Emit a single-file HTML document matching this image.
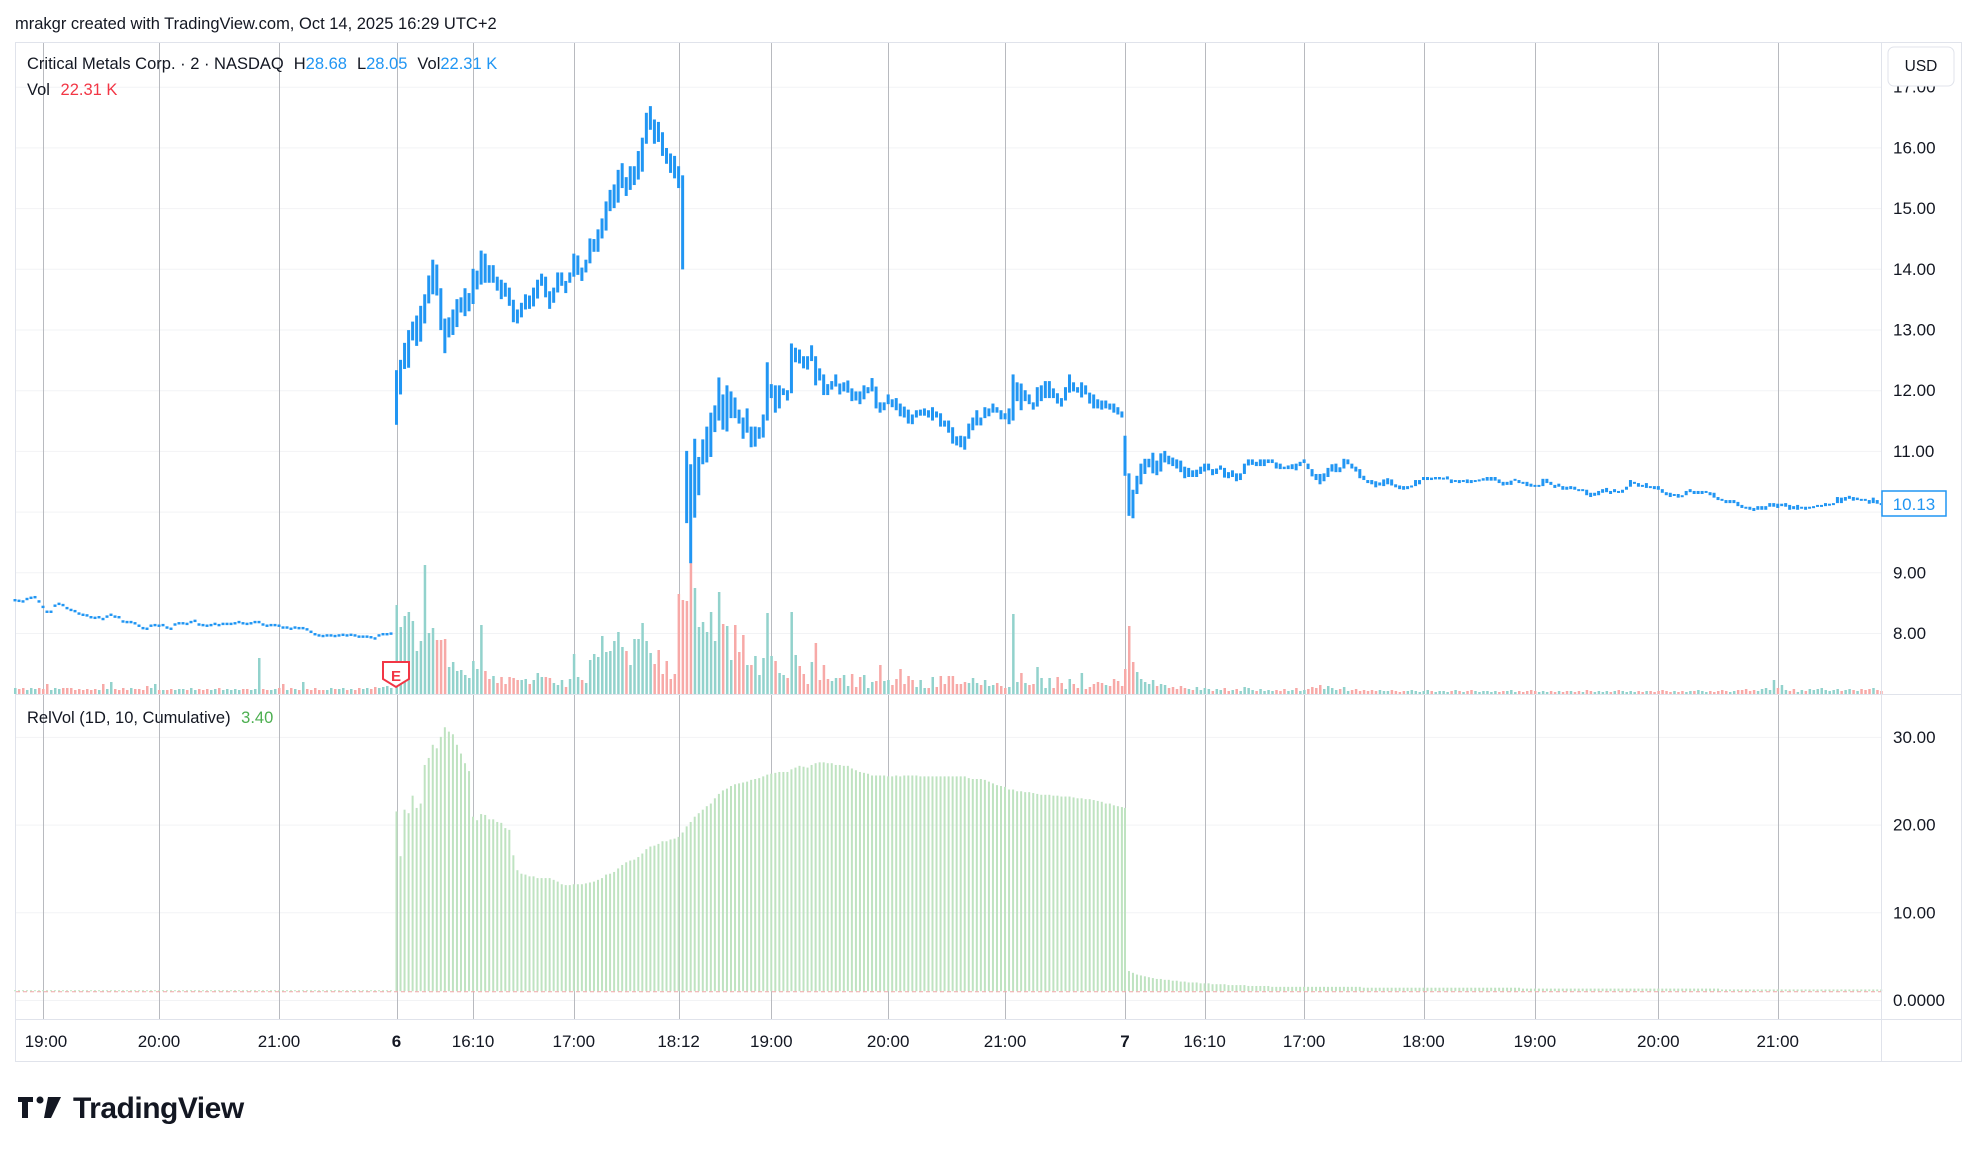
<!DOCTYPE html>
<html><head><meta charset="utf-8"><style>
html,body{margin:0;padding:0;background:#fff;width:1977px;height:1152px;overflow:hidden;font-family:"Liberation Sans",sans-serif;}
svg{position:absolute;left:0;top:0;}
</style></head><body>
<svg id="chart" width="1977" height="1152" viewBox="0 0 1977 1152">
<text x="15" y="29" font-size="16.5" fill="#131722">mrakgr created with TradingView.com, Oct 14, 2025 16:29 UTC+2</text>
<rect x="15.5" y="42.5" width="1946" height="1019" fill="#fff" stroke="#e0e3eb"/>
<g id="grid"></g>
<g id="vol"></g>
<g id="bars"></g>
<g id="relvol"></g>
<line x1="16" y1="694.5" x2="1961" y2="694.5" stroke="#e0e3eb"/>
<line x1="16" y1="1019.5" x2="1961" y2="1019.5" stroke="#e0e3eb"/>
<line x1="1881.5" y1="43" x2="1881.5" y2="1061" stroke="#e0e3eb"/>
<g id="axes" font-size="17" fill="#131722"></g>
<rect x="1888" y="47" width="66" height="39" rx="6" fill="#fff" stroke="#e0e3eb"/>
<text x="1921" y="71" font-size="15.5" text-anchor="middle" fill="#131722">USD</text>
<text x="27" y="69" font-size="16.5" fill="#131722">Critical Metals Corp. · 2 · NASDAQ<tspan dx="10">H</tspan><tspan fill="#2196f3">28.68</tspan><tspan dx="10">L</tspan><tspan fill="#2196f3">28.05</tspan><tspan dx="10">Vol</tspan><tspan fill="#2196f3">22.31 K</tspan></text>
<text x="27" y="95" font-size="16.5" fill="#131722">Vol <tspan dx="6" fill="#f23645">22.31 K</tspan></text>
<text x="27" y="723" font-size="16.5" fill="#131722">RelVol (1D, 10, Cumulative) <tspan dx="6" fill="#4caf50">3.40</tspan></text>
<g>
<path d="M383 662 h26 v17 l-13 8 l-13 -8 z" fill="#fff" stroke="#f23645" stroke-width="2"/>
<text x="396" y="681" font-size="15" text-anchor="middle" fill="#f23645" font-weight="bold">E</text>
</g>
<rect x="1882" y="491" width="64" height="25" fill="#fff" stroke="#2196f3" stroke-width="1.5"/>
<text x="1914" y="510" font-size="17" text-anchor="middle" fill="#2196f3">10.13</text>
<g>
<path d="M18 1097 h15 v5 h-5 v16 h-6 v-16 h-4 z" fill="#131722"/>
<circle cx="40" cy="1100" r="3.5" fill="#131722"/>
<path d="M48 1097 h13 l-10 21 h-7 z" fill="#131722"/>
<text x="73" y="1118" font-size="30" font-weight="bold" fill="#131722" letter-spacing="-0.5">TradingView</text>
</g>
</svg>
<script>
// ---- data ----
const priorMid=[8.54,8.53,8.52,8.56,8.58,8.59,8.52,8.43,8.35,8.35,8.45,8.48,8.46,8.41,8.38,8.36,8.32,8.30,8.29,8.26,8.25,8.26,8.23,8.27,8.30,8.27,8.26,8.19,8.18,8.18,8.16,8.12,8.08,8.07,8.12,8.13,8.12,8.13,8.09,8.07,8.14,8.16,8.16,8.15,8.18,8.20,8.14,8.13,8.12,8.13,8.15,8.13,8.15,8.15,8.15,8.16,8.18,8.16,8.15,8.16,8.18,8.18,8.14,8.12,8.13,8.13,8.12,8.09,8.09,8.07,8.09,8.08,8.08,8.06,8.02,7.98,7.96,7.95,7.96,7.96,7.95,7.96,7.97,7.96,7.97,7.96,7.94,7.94,7.94,7.93,7.91,7.96,7.98,7.98,7.99];
const day6High=[12.33,12.5,12.78,12.99,13.13,13.23,13.39,13.58,13.89,14.15,14.07,13.68,13.18,13.2,13.33,13.5,13.53,13.68,13.6,14.0,13.97,14.3,14.25,14.06,14.06,13.87,13.82,13.77,13.69,13.49,13.33,13.44,13.58,13.56,13.69,13.82,13.92,13.87,13.63,13.69,13.94,13.94,13.8,13.94,14.25,14.22,14.02,14.15,14.5,14.49,14.65,14.83,15.11,15.3,15.39,15.63,15.74,15.51,15.69,15.69,15.94,16.16,16.57,16.68,16.46,16.42,16.25,15.99,15.9,15.86,15.69,15.54,
11.0,10.78,11.2,10.9,11.19,11.4,11.63,11.75,12.21,11.93,12.08,11.98,11.88,11.68,11.55,11.7,11.4,11.4,11.39,11.6,12.46,12.1,12.08,12.08,12.03,12.0,12.77,12.7,12.67,12.56,12.56,12.74,12.56,12.36,12.26,12.1,12.15,12.26,12.11,12.13,12.16,12.03,11.98,11.98,12.08,12.05,12.2,12.06,11.8,11.8,11.93,11.85,11.87,11.78,11.73,11.68,11.6,11.67,11.68,11.7,11.67,11.72,11.65,11.62,11.5,11.5,11.39,11.24,11.25,11.24,11.45,11.55,11.67,11.55,11.72,11.7,11.78,11.72,11.67,11.62,11.7,12.26,12.13,12.11,12.0,11.93,11.8,12.05,12.08,12.15,12.15,12.03,11.95,11.87,12.05,12.26,12.13,12.05,12.13,12.08,11.96,11.93,11.85,11.83,11.83,11.78,11.78,11.72,11.65];
const day6Low=[11.43,11.93,12.35,12.37,12.82,12.73,12.8,13.1,13.43,13.58,13.56,12.99,12.61,12.87,12.91,13.04,13.28,13.22,13.3,13.42,13.66,13.74,13.77,13.77,13.77,13.64,13.5,13.54,13.39,13.12,13.1,13.2,13.33,13.34,13.38,13.51,13.72,13.53,13.34,13.44,13.61,13.72,13.6,13.77,13.87,13.9,13.8,13.94,14.09,14.28,14.28,14.5,14.63,14.95,15.0,15.09,15.33,15.2,15.3,15.38,15.47,15.6,16.06,16.29,16.06,16.09,15.86,15.73,15.58,15.49,15.33,13.99,
9.81,9.15,9.9,10.27,10.78,10.81,10.9,11.31,11.5,11.35,11.32,11.54,11.54,11.45,11.2,11.3,11.06,11.07,11.2,11.22,11.5,11.87,11.63,11.7,11.92,11.83,11.95,12.46,12.44,12.36,12.34,12.48,12.08,12.16,11.92,11.92,12.01,12.06,11.93,11.98,11.96,11.82,11.83,11.77,11.85,11.95,11.98,11.7,11.63,11.67,11.77,11.72,11.67,11.57,11.55,11.45,11.44,11.55,11.58,11.58,11.55,11.5,11.55,11.4,11.4,11.3,11.12,11.09,11.06,11.02,11.2,11.34,11.42,11.42,11.54,11.57,11.63,11.63,11.52,11.52,11.44,11.5,11.82,11.67,11.82,11.77,11.68,11.73,11.82,11.87,11.87,11.87,11.78,11.73,11.83,11.96,11.98,11.96,11.88,11.93,11.78,11.7,11.7,11.68,11.7,11.68,11.63,11.6,11.55];
const day7High=[11.25,10.63,10.36,10.59,10.79,10.87,10.87,10.97,10.84,10.96,11.0,10.92,10.89,10.86,10.84,10.74,10.72,10.68,10.69,10.74,10.79,10.79,10.7,10.71,10.76,10.72,10.65,10.68,10.63,10.63,10.79,10.86,10.86,10.82,10.86,10.86,10.86,10.86,10.81,10.79,10.74,10.76,10.78,10.79,10.82,10.86,10.79,10.7,10.62,10.62,10.63,10.72,10.78,10.79,10.73,10.87,10.86,10.79,10.74,10.7,10.59,10.52,10.52,10.5,10.48,10.53,10.55,10.53,10.45,10.43,10.42,10.42,10.43,10.52,10.52,10.57,10.57,10.56,10.57,10.57,10.56,10.58,10.53,10.52,10.52,10.52,10.53,10.52,10.52,10.53,10.55,10.57,10.57,10.57,10.53,
10.49,10.49,10.51,10.54,10.52,10.49,10.49,10.46,10.44,10.44,10.54,10.54,10.49,10.44,10.46,10.42,10.41,10.42,10.41,10.37,10.37,10.36,10.31,10.31,10.34,10.37,10.39,10.34,10.37,10.34,10.36,10.41,10.52,10.49,10.47,10.44,10.47,10.42,10.42,10.42,10.37,10.32,10.31,10.29,10.29,10.27,10.34,10.37,10.34,10.34,10.34,10.34,10.32,10.31,10.24,10.21,10.19,10.19,10.19,10.16,10.11,10.08,10.08,10.06,10.09,10.09,10.09,10.14,10.14,10.13,10.13,10.14,10.11,10.09,10.11,10.08,10.08,10.08,10.09,10.11,10.11,10.14,10.13,10.14,10.24,10.23,10.24,10.26,10.24,10.23,10.21,10.21,10.19,10.23,10.19,10.14];
const day7Low=[10.59,9.93,9.89,10.29,10.45,10.62,10.73,10.63,10.6,10.66,10.81,10.78,10.75,10.71,10.65,10.55,10.57,10.57,10.57,10.62,10.66,10.68,10.6,10.62,10.69,10.56,10.55,10.57,10.5,10.52,10.62,10.76,10.77,10.75,10.75,10.75,10.8,10.8,10.71,10.7,10.7,10.7,10.7,10.68,10.75,10.8,10.7,10.58,10.52,10.45,10.5,10.57,10.66,10.65,10.65,10.71,10.78,10.71,10.66,10.55,10.52,10.47,10.45,10.4,10.43,10.42,10.45,10.43,10.4,10.37,10.36,10.37,10.4,10.42,10.45,10.52,10.52,10.52,10.53,10.53,10.55,10.53,10.47,10.49,10.47,10.49,10.47,10.47,10.51,10.51,10.51,10.51,10.51,10.51,10.47,
10.43,10.44,10.44,10.51,10.47,10.47,10.42,10.41,10.41,10.41,10.42,10.47,10.44,10.39,10.41,10.36,10.36,10.37,10.36,10.36,10.36,10.27,10.24,10.26,10.27,10.31,10.32,10.29,10.32,10.32,10.31,10.36,10.41,10.46,10.41,10.41,10.39,10.41,10.37,10.36,10.31,10.27,10.24,10.27,10.23,10.24,10.27,10.32,10.29,10.29,10.29,10.31,10.27,10.23,10.19,10.18,10.14,10.14,10.14,10.09,10.06,10.06,10.03,10.01,10.03,10.03,10.03,10.08,10.08,10.06,10.09,10.08,10.03,10.04,10.03,10.06,10.03,10.06,10.08,10.08,10.08,10.09,10.11,10.13,10.14,10.14,10.18,10.21,10.18,10.19,10.19,10.18,10.13,10.14,10.13,10.13];
const priorVol=[6,5,6,4,6,5,6,5,10,4,6,5,6,6,6,4,5,4,5,4,5,4,10,5,12,5,4,6,4,6,5,5,4,8,6,10,4,4,4,5,4,5,5,4,6,4,5,4,5,4,5,6,4,5,4,5,4,5,5,4,5,36,5,4,4,5,6,10,4,6,5,4,12,5,4,6,4,4,4,6,5,5,6,4,5,4,6,5,6,5,7,6,7,8,6];
const day6Vol=[89,67,78,82,73,43,53,129,61,66,54,54,55,27,32,23,24,19,16,33,25,69,23,15,18,11,17,10,17,16,14,14,15,10,14,21,17,17,16,11,9,14,7,15,40,17,14,11,34,40,37,58,42,43,53,62,47,43,29,55,55,71,53,41,30,44,20,33,15,20,100,94,
93,131,106,67,72,62,82,53,102,70,68,34,69,42,59,29,29,38,19,36,81,38,33,21,19,16,82,39,28,20,10,32,51,14,29,15,13,16,16,19,8,20,7,17,19,6,12,13,29,13,14,9,15,25,10,18,14,7,14,6,6,17,7,18,10,18,18,10,10,12,11,16,11,9,14,8,9,11,8,6,7,80,12,21,11,9,10,27,16,6,16,6,17,11,5,15,10,6,21,5,7,10,12,11,9,8,15,13,8];
const day7Vol=[25,68,32,22,15,12,10,14,8,10,9,6,7,5,8,6,5,4,7,4,6,5,3,5,4,6,3,4,5,3,7,6,4,3,5,3,4,3,4,3,5,3,4,6,3,4,5,7,6,9,5,8,6,4,5,7,3,4,5,3,4,3,4,3,4,3,3,4,3,2,3,3,4,3,2,3,4,3,2,3,3,2,3,4,3,2,3,4,3,2,3,3,2,3,2,3,3,4,2,3,2,3,4,3,2,3,2,3,2,3,2,3,3,2,3,2,4,3,2,3,2,3,2,3,4,3,2,3,2,3,2,3,3,2,3,4,3,2,3,2,3,2,3,3,4,3,2,3,2,3,4,3,2,3,4,4,5,3,4,3,5,6,4,14,6,9,4,3,5,2,4,3,5,4,5,6,4,3,4,5,3,4,5,4,3,5,4,5,6,4,3];
const priorRel=[1.1,1.1,1.1,1.1,1.1,1.1,1.1,1.1,1.1,1.1,1.1,1.1,1.1,1.1,1.1,1.1,1.1,1.1,1.1,1.1,1.1,1.1,1.1,1.1,1.1,1.1,1.1,1.1,1.1,1.1,1.1,1.1,1.1,1.1,1.1,1.1,1.1,1.1,1.1,1.1,1.1,1.1,1.1,1.1,1.1,1.1,1.1,1.1,1.1,1.1,1.1,1.1,1.1,1.1,1.1,1.1,1.1,1.1,1.1,1.1,1.1,1.1,1.1,1.1,1.1,1.1,1.1,1.1,1.1,1.1,1.1,1.1,1.1,1.1,1.1,1.1,1.1,1.1,1.1,1.1,1.1,1.1,1.1,1.1,1.1,1.1,1.1,1.1,1.1,1.1,1.1,1.1,1.1,1.1,1.1];
const day6Rel=[21.5,16.4,21.7,21.3,23.3,21.9,22.4,26.8,27.6,29.1,28.7,30.0,31.1,30.6,30.3,29.1,28.1,27.0,26.1,20.9,20.5,21.2,21.1,20.6,20.6,20.3,20.2,19.6,19.4,16.5,14.8,14.4,14.3,14.1,14.1,13.9,13.9,13.9,13.9,13.7,13.5,13.2,13.1,13.1,13.2,13.2,13.2,13.3,13.4,13.5,13.7,13.9,14.3,14.4,14.6,15.0,15.4,15.7,15.9,16.0,16.3,16.7,17.2,17.5,17.6,17.8,18.1,18.1,18.3,18.4,18.6,19.1,
19.8,20.3,20.9,21.3,21.7,22.1,22.4,23.0,23.5,23.9,24.1,24.4,24.6,24.7,24.8,24.9,25.1,25.2,25.3,25.5,25.7,25.8,25.9,26.0,26.0,26.0,26.3,26.5,26.7,26.6,26.5,26.8,27.0,27.1,27.1,27.0,27.0,26.8,26.8,26.7,26.7,26.4,26.2,26.0,25.9,25.8,25.6,25.6,25.6,25.6,25.5,25.5,25.6,25.5,25.6,25.6,25.6,25.6,25.5,25.5,25.5,25.5,25.5,25.5,25.5,25.5,25.5,25.5,25.5,25.5,25.3,25.2,25.2,25.2,25.1,24.9,24.7,24.5,24.4,24.3,24.0,24.0,23.8,23.8,23.7,23.7,23.6,23.5,23.4,23.4,23.4,23.3,23.3,23.2,23.2,23.2,23.1,23.0,23.0,22.9,22.9,22.8,22.7,22.6,22.4,22.4,22.2,22.1,22.0,21.9];
const day7Rel=[3.4,3.3,3.1,2.9,2.8,2.7,2.6,2.5,2.4,2.4,2.3,2.3,2.2,2.2,2.1,2.1,2.0,2.0,2.0,1.9,1.9,1.9,1.8,1.8,1.8,1.8,1.7,1.7,1.7,1.7,1.7,1.6,1.6,1.6,1.6,1.6,1.6,1.5,1.5,1.5,1.5,1.5,1.5,1.5,1.5,1.5,1.5,1.5,1.5,1.5,1.5,1.5,1.5,1.5,1.5,1.5,1.5,1.5,1.5,1.5,
1.4,1.4,1.4,1.4,1.4,1.4,1.4,1.4,1.4,1.4,1.4,1.4,1.4,1.4,1.4,1.4,1.4,1.4,1.4,1.4,1.4,1.4,1.4,1.4,1.4,1.4,1.4,1.4,1.4,1.4,1.4,1.4,1.4,1.4,1.4,1.4,1.4,1.4,1.4,1.4,
1.3,1.3,1.3,1.3,1.3,1.3,1.3,1.3,1.3,1.3,1.3,1.3,1.3,1.3,1.3,1.3,1.3,1.3,1.3,1.3,1.3,1.3,1.3,1.3,1.3,1.3,1.3,1.3,1.3,1.3,1.3,1.3,1.3,1.3,1.3,1.3,1.3,1.3,1.3,1.3,1.3,1.3,1.3,1.3,1.3,1.3,1.3,1.3,1.3,1.3,
1.2,1.2,1.2,1.2,1.2,1.2,1.2,1.2,1.2,1.2,1.2,1.2,1.2,1.2,1.2,1.2,1.2,1.2,1.2,1.2,1.2,1.2,1.2,1.2,1.2,1.2,1.2,1.2,1.2,1.2,1.2,1.2,1.2,1.2,1.2,1.2,1.2,1.2,1.2,1.2,1.2];
const timeLabels=["19:00","20:00","21:00","6","16:10","17:00","18:12","19:00","20:00","21:00","7","16:10","17:00","18:00","19:00","20:00","21:00"];
const timeBarIdx=[7,36,66,95,114,139,165,188,217,246,276,296,321,351,379,410,440];
const priceTicks=[17,16,15,14,13,12,11,9,8];
const relTicks=[30,20,10,0];
const relTickLabels=["30.00","20.00","10.00","0.0000"];

// ---- scales ----
const N0=priorMid.length, N1=N0+day6High.length;
const xOf=i=> i<N0 ? 15+i*4 : (i<N1 ? 396.5+(i-N0)*4.03 : 1125+(i-N1)*3.98);
const yP=p=>633-(p-8)*60.7;
const yV=v=>694-v;
const yR=v=>1000-v*8.77;
const NS='http://www.w3.org/2000/svg';
function mk(tag,attrs,parent){const e=document.createElementNS(NS,tag);for(const k in attrs)e.setAttribute(k,attrs[k]);parent.appendChild(e);return e;}

const hi=[],lo=[],vols=[],rels=[];
priorMid.forEach(m=>{hi.push(m+0.02);lo.push(m-0.02);});
day6High.forEach((h,i)=>{hi.push(h);lo.push(day6Low[i]);});
day7High.forEach((h,i)=>{hi.push(h);lo.push(day7Low[i]);});
priorVol.forEach(v=>vols.push(v));day6Vol.forEach(v=>vols.push(v));day7Vol.forEach(v=>vols.push(v));
priorRel.forEach(v=>rels.push(v));day6Rel.forEach(v=>rels.push(v));

// grid
const grid=document.getElementById('grid');
[17,16,15,14,13,12,11,10,9,8].forEach(p=>{const l=mk('line',{x1:16,x2:1881,y1:yP(p)+0.5,y2:yP(p)+0.5,stroke:'#f2f3f5'},grid);

});
relTicks.forEach(v=>{const l=mk('line',{x1:16,x2:1881,y1:yR(v)+0.5,y2:yR(v)+0.5,stroke:'#f2f3f5'},grid);

});
timeBarIdx.forEach(i=>{const x=Math.round(xOf(i))+0.5;const l=mk('line',{x1:x,x2:x,y1:43,y2:1019,stroke:'#b8babf','stroke-width':1},grid);

});

// volume
const vg=document.getElementById('vol');
vols.forEach((v,i)=>{const mid=(hi[i]+lo[i])/2;const pm=i>0?(hi[i-1]+lo[i-1])/2:mid;const up=mid>=pm;
const r=mk('rect',{x:xOf(i)-1,y:yV(v),width:2.5,height:v,fill:up?'#92d2cc':'#f7a9a7'},vg);

});

// price bars
const bg=document.getElementById('bars');
hi.forEach((h,i)=>{const y1=yP(h),y2=yP(lo[i]);
const r=mk('rect',{x:xOf(i)-1.5,y:y1,width:3,height:Math.max(2,y2-y1),fill:'#2196f3'},bg);

});

// relvol
const rg=document.getElementById('relvol');
const base=yR(1);
function relBar(i,v){const y=yR(v);
const r=mk('rect',{x:xOf(i)-1,y:Math.min(y,base-1),width:2,height:Math.max(1,base-y),fill:'#bfe3c1'},rg);

}
rels.forEach((v,i)=>relBar(i,v));
day7Rel.forEach((v,i)=>relBar(N1+i,v));
const dl=mk('line',{x1:16,x2:1881,y1:base+0.5,y2:base+0.5,stroke:'#f0a8a8','stroke-dasharray':'4 3'},rg);



// axes
const ag=document.getElementById('axes');
priceTicks.forEach(p=>{const t=mk('text',{x:1893,y:yP(p)+6},ag);t.textContent=p.toFixed(2);

});
relTicks.forEach((v,i)=>{const t=mk('text',{x:1893,y:yR(v)+6},ag);t.textContent=relTickLabels[i];

});
timeLabels.forEach((s,i)=>{let x=xOf(timeBarIdx[i]);if(i===0)x=Math.max(x,46);
const t=mk('text',{x:x,y:1047,'text-anchor':'middle','font-weight':(s.length<3?'bold':'normal')},ag);t.textContent=s;

});
</script>
</body></html>
